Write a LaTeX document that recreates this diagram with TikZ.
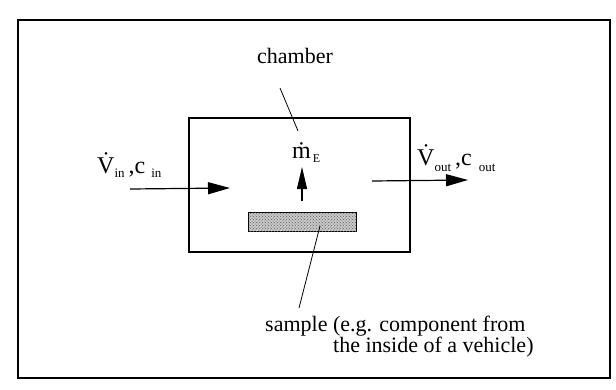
\documentclass[tikz,border=0pt]{standalone}
\usepackage{fontspec}
\setmainfont{Liberation Serif}
\usetikzlibrary{arrows.meta, positioning, calc, patterns}

\newcommand{\subtxt}[2][-4pt]{\raisebox{#1}{\fontsize{13}{13}\selectfont #2}}

\begin{document}
\begin{tikzpicture}[
    x=1pt, y=-1pt,
    frame/.style={draw, line width=1.3pt},
    chamberbox/.style={rectangle, draw=black, line width=2.8pt, minimum width=221pt, minimum height=134pt},
    samplebar/.style={rectangle, draw=black, line width=1pt, fill=gray!45, postaction={pattern=crosshatch dots, pattern color=gray!80!black}, minimum width=108pt, minimum height=19pt},
    label/.style={font=\fontsize{22}{21}\selectfont, inner sep=0pt},
    flowlabel/.style={font=\fontsize{24}{26}\selectfont, inner sep=0pt},
    flow/.style={line width=1.2pt, -{Triangle[length=22pt, width=12pt]}},
    leader/.style={line width=0.8pt}
]
    \useasboundingbox (0,0) rectangle (616,389);
    \draw[frame] (18,20) rectangle (610,378);

    \node[chamberbox] (chamber) at (299.5,185) {};
    \node[samplebar] (sample) at (302,221.5) {};

    \node[label, anchor=base] (chamberlbl) at (295,63) {chamber};
    \node[label, anchor=north west, align=left] (samplelbl) at (265,316)
        {sample (e.g. component from\\\hspace*{68pt}the inside of a vehicle)};

    \node[flowlabel, anchor=base west] (vin) at (97,173) {\.V\subtxt{in}\,,c\hspace{6pt}\subtxt{in}};
    \node[flowlabel, anchor=base west] (vout) at (417,165) {\.V\subtxt[-6pt]{out}\,,c\hspace{7pt}\subtxt[-6pt]{out}};
    \node[flowlabel, anchor=base west] (me) at (292,158) {\.m\hspace{2pt}\subtxt[-4pt]{\fontsize{12}{12}\selectfont E}};

    \coordinate (inA) at (130,189);
    \coordinate (inB) at (230,188);
    \coordinate (outA) at (372,181);
    \coordinate (outB) at (468,180);
    \coordinate (upA) at (302,201);
    \coordinate (upB) at (302,167);
    \coordinate (chamberend) at (298,131);
    \coordinate (chamberstart) at (280,88);
    \coordinate (samplestart) at (320,226);
    \coordinate (sampleend) at (299,308);

    \draw[flow] (inA) -- (inB);
    \draw[flow] (outA) -- (outB);
    \draw[flow, -{Triangle[length=22pt, width=10pt]}] (upA) -- (upB);
    \draw[leader] (chamberstart) -- (chamberend);
    \draw[leader] (samplestart) -- (sampleend);

\end{tikzpicture}
\end{document}
